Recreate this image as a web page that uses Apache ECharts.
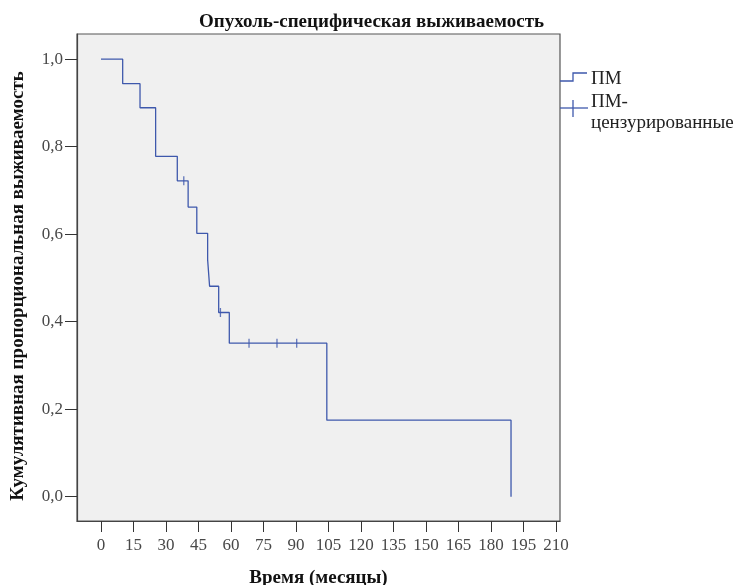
<!DOCTYPE html>
<html>
<head>
<meta charset="utf-8">
<script src="https://cdn.jsdelivr.net/npm/echarts@6/dist/echarts.min.js"></script>
<style>html,body{margin:0;padding:0;background:#fff}#c{width:743px;height:585px}</style>
</head>
<body>
<div id="c"></div>
<script>
// Kaplan–Meier step curve: [month, cumulative survival]
const survivalCurve = [
  [0, 1.0], [10, 0.944], [18, 0.889], [25.2, 0.778], [35.2, 0.722],
  [40.2, 0.662], [44.2, 0.602], [49.2, 0.542], [50.1, 0.481],
  [54.3, 0.421], [59.2, 0.351], [104.2, 0.175], [189.2, 0.0]
];
// Censored observations: [month, survival at that time]
const censoredPoints = [
  [38.2, 0.722], [55.1, 0.421], [68.3, 0.351], [81.2, 0.351], [90.3, 0.351]
];
const xTicks = [0, 15, 30, 45, 60, 75, 90, 105, 120, 135, 150, 165, 180, 195, 210];
const yTicks = [0, 0.2, 0.4, 0.6, 0.8, 1.0];
const seriesNames = ['ПМ', 'ПМ-цензурированные'];
const titleText = 'Опухоль-специфическая выживаемость';
const xTitle = 'Время (месяцы)';
const yTitle = 'Кумулятивная пропорциональная выживаемость';

const lineColor = '#3e58ac';
const serif = '"Liberation Serif", "Times New Roman", serif';

const chart = echarts.init(document.getElementById('c'), null, {renderer: 'canvas'});
chart.setOption({
  animation: false,
  backgroundColor: '#ffffff',
  title: {
    text: titleText, left: 'center', top: 8,
    textStyle: {fontFamily: serif, fontWeight: 'bold', fontSize: 19, color: '#111'}
  },
  grid: {
    left: 77, top: 34, width: 483, height: 487,
    show: true, backgroundColor: '#f0f0f0', borderColor: '#555', borderWidth: 1.2,
    containLabel: false, outerBoundsMode: 'none'
  },
  xAxis: {
    type: 'value', min: -11.08, max: 211.8,
    name: xTitle, nameLocation: 'middle', nameGap: 48,
    nameTextStyle: {fontFamily: serif, fontWeight: 'bold', fontSize: 19, color: '#111'},
    axisLine: {show: true, onZero: false, lineStyle: {color: '#444', width: 1.2}},
    axisTick: {show: true, length: 11, customValues: xTicks, lineStyle: {color: '#333'}},
    axisLabel: {customValues: xTicks, margin: 16, fontFamily: serif, fontSize: 17, color: '#484848'},
    splitLine: {show: false}
  },
  yAxis: {
    type: 'value', min: -0.0555, max: 1.0576,
    name: yTitle, nameLocation: 'middle', nameGap: 49, nameRotate: 90,
    nameTextStyle: {fontFamily: serif, fontWeight: 'bold', fontSize: 19, color: '#111', padding: [0, 17, 0, 0]},
    axisLine: {show: true, onZero: false, lineStyle: {color: '#444', width: 1.2}},
    axisTick: {show: true, length: 12, customValues: yTicks, lineStyle: {color: '#333'}},
    axisLabel: {
      customValues: yTicks, margin: 14, fontFamily: serif, fontSize: 17, color: '#484848',
      formatter: v => v.toFixed(1).replace('.', ',')
    },
    splitLine: {show: false}
  },
  series: [
    {
      name: seriesNames[0], type: 'line', step: 'end', data: survivalCurve,
      symbol: 'none', lineStyle: {color: lineColor, width: 1.3}, z: 3
    },
    {
      name: seriesNames[1], type: 'scatter', data: censoredPoints,
      symbol: 'rect', symbolSize: [1.3, 9], itemStyle: {color: lineColor}, z: 4
    }
  ],
  graphic: [
    {type: 'polyline', shape: {points: [[560, 81], [573, 81], [573, 73], [587, 73]]},
     style: {stroke: lineColor, lineWidth: 1.3, fill: null}},
    {type: 'text', left: 591, top: 70,
     style: {text: seriesNames[0], font: '19px ' + serif, fill: '#222'}},
    {type: 'line', shape: {x1: 560, y1: 108, x2: 588, y2: 108}, style: {stroke: lineColor, lineWidth: 1.3}},
    {type: 'line', shape: {x1: 573, y1: 100, x2: 573, y2: 117}, style: {stroke: lineColor, lineWidth: 1.3}},
    {type: 'text', left: 591, top: 92,
     style: {text: 'ПМ-\nцензурированные', font: '19px ' + serif, fill: '#222', lineHeight: 21}}
  ]
});
</script>
</body>
</html>
